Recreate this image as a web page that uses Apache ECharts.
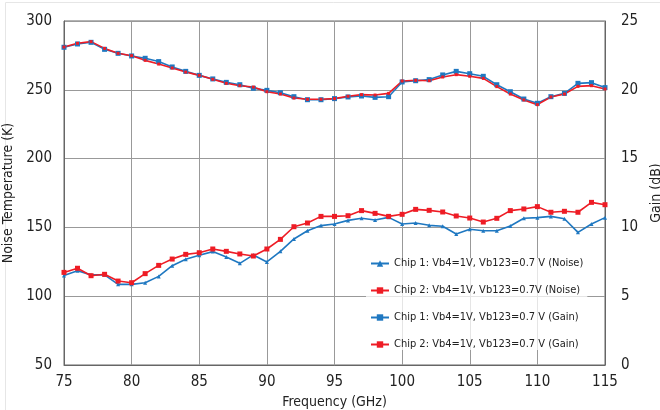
<!DOCTYPE html>
<html>
<head>
<meta charset="utf-8">
<script src="https://cdn.jsdelivr.net/npm/echarts@6/dist/echarts.min.js"></script>
<style>
html, body { margin: 0; padding: 0; background: #fff; }
#chart { width: 660px; height: 410px; }
</style>
</head>
<body>
<div id="chart"></div>
<script>
// Frequency points (GHz)
const freq = [
	75, 76, 77, 78, 79, 80, 81, 82, 83, 84, 85, 86, 87, 88, 89, 90, 91, 92, 93, 94,
	95, 96, 97, 98, 99, 100, 101, 102, 103, 104, 105, 106, 107, 108, 109, 110, 111, 112, 113, 114, 115
];

// Noise temperature (K), left axis
const chip1Noise = [
	115, 118.5, 115.5, 115.5, 108.6, 108.6, 109.8, 114.4, 122.2, 126.8, 129.7, 132.4, 128.5, 123.9, 130, 124.9,
	132.6, 141.6, 147.6, 151.3, 152.5, 155.1, 156.6, 155.4, 157.3, 152.5, 153.2, 151.5, 150.8, 145.2, 148.6,
	147.6, 147.6, 151, 156.6, 157.1, 158, 156.3, 146.4, 152.5, 157.1
];
const chip2Noise = [
	117.3, 120.3, 114.9, 115.9, 111, 109.8, 116.4, 122.4, 127, 130.4, 131.6, 134.3, 132.6, 130.7, 129.2, 134.3,
	141.3, 150.5, 153.2, 158, 158, 158.5, 162.2, 160.2, 158, 159.5, 163.1, 162.4, 161.2, 158.3, 156.8,
	153.9, 156.6, 162.2, 163.4, 165.1, 161, 161.7, 161, 168.2, 166.5
];

// Gain (dB), right axis
const chip1Gain = [
	23.09, 23.33, 23.45, 22.94, 22.65, 22.46, 22.29, 22.05, 21.66, 21.34, 21.05, 20.79, 20.54, 20.37, 20.11, 19.96,
	19.79, 19.5, 19.28, 19.28, 19.36, 19.48, 19.55, 19.45, 19.5, 20.57, 20.66, 20.74, 21.08, 21.34, 21.17,
	20.98, 20.37, 19.86, 19.33, 19.02, 19.5, 19.74, 20.47, 20.52, 20.16
];
const chip2Gain = [
	23.11, 23.38, 23.5, 23.01, 22.65, 22.48, 22.14, 21.87, 21.58, 21.29, 21.05, 20.76, 20.47, 20.3, 20.2, 19.86,
	19.69, 19.4, 19.31, 19.31, 19.36, 19.53, 19.65, 19.62, 19.74, 20.64, 20.69, 20.66, 20.93, 21.1, 20.98,
	20.83, 20.23, 19.69, 19.26, 18.92, 19.48, 19.69, 20.25, 20.3, 20.06
];

const seriesNames = [
	'Chip 1: Vb4=1V, Vb123=0.7 V (Noise)',
	'Chip 2: Vb4=1V, Vb123=0.7V (Noise)',
	'Chip 1: Vb4=1V, Vb123=0.7 V (Gain)',
	'Chip 2: Vb4=1V, Vb123=0.7 V (Gain)'
];

const BLUE = '#1f78c1';
const RED = '#ee1c25';
const FONT = '"Liberation Sans Narrow", "DejaVu Sans Condensed", "Liberation Sans", sans-serif';

const pairs = ( ys ) => freq.map( ( f, i ) => [ f, ys[ i ] ] );

const makeSeries = ( name, ys, color, symbol, size, yAxisIndex ) => ( {
	name,
	type: 'line',
	yAxisIndex,
	data: pairs( ys ),
	symbol,
	symbolSize: size,
	showSymbol: true,
	lineStyle: { color, width: 1.6 },
	itemStyle: { color },
	animation: false
} );

const chart = echarts.init( document.getElementById( 'chart' ), null, { renderer: 'canvas' } );

chart.setOption( {
	backgroundColor: '#fff',
	animation: false,
	textStyle: { fontFamily: FONT },
	grid: {
		left: 64,
		right: 55,
		top: 21,
		bottom: 45,
		outerBoundsMode: 'none',
		containLabel: false,
		show: true,
		borderColor: '#666',
		borderWidth: 1
	},
	legend: {
		orient: 'vertical',
		left: 366,
		top: 258,
		itemGap: 16,
		itemWidth: 18,
		itemHeight: 8,
		backgroundColor: 'rgba(255,255,255,0.75)',
		padding: [ 0, 4, 0, 4 ],
		textStyle: { fontFamily: FONT, fontSize: 11, color: '#222' },
		data: seriesNames
	},
	xAxis: {
		type: 'value',
		min: 75,
		max: 115,
		interval: 5,
		name: 'Frequency (GHz)',
		nameLocation: 'middle',
		nameGap: 29,
		nameTextStyle: { fontFamily: FONT, fontSize: 14, color: '#222' },
		axisLine: { show: true, lineStyle: { color: '#666' } },
		axisTick: { show: false },
		axisLabel: { fontFamily: FONT, fontSize: 15, color: '#222', margin: 10 },
		splitLine: { show: true, lineStyle: { color: '#999', width: 1 } }
	},
	yAxis: [
		{
			type: 'value',
			min: 50,
			max: 300,
			interval: 50,
			name: 'Noise Temperature (K)',
			nameLocation: 'middle',
			nameGap: 41,
			nameTextStyle: { fontFamily: FONT, fontSize: 14, color: '#222' },
			axisLine: { show: true, lineStyle: { color: '#666' } },
			axisTick: { show: false },
			axisLabel: { fontFamily: FONT, fontSize: 15, color: '#222', margin: 12 },
			splitLine: { show: true, lineStyle: { color: '#999', width: 1 } }
		},
		{
			type: 'value',
			min: 0,
			max: 25,
			interval: 5,
			name: 'Gain (dB)',
			nameLocation: 'middle',
			nameGap: 34,
			nameRotate: 90,
			nameTextStyle: { fontFamily: FONT, fontSize: 14, color: '#222' },
			axisLine: { show: true, lineStyle: { color: '#666' } },
			axisTick: { show: false },
			axisLabel: { fontFamily: FONT, fontSize: 15, color: '#222', margin: 16 },
			splitLine: { show: false }
		}
	],
	series: [
		makeSeries( seriesNames[ 0 ], chip1Noise, BLUE, 'triangle', 4, 0 ),
		makeSeries( seriesNames[ 1 ], chip2Noise, RED, 'rect', 5, 0 ),
		makeSeries( seriesNames[ 2 ], chip1Gain, BLUE, 'rect', 5, 1 ),
		makeSeries( seriesNames[ 3 ], chip2Gain, RED, 'rect', 3, 1 )
	],
	graphic: [ {
		type: 'rect',
		shape: { x: 5.5, y: 2.5, width: 660, height: 420 },
		style: { fill: 'none', stroke: '#e6e6e6', lineWidth: 1 },
		silent: true
	} ]
} );
</script>
</body>
</html>
